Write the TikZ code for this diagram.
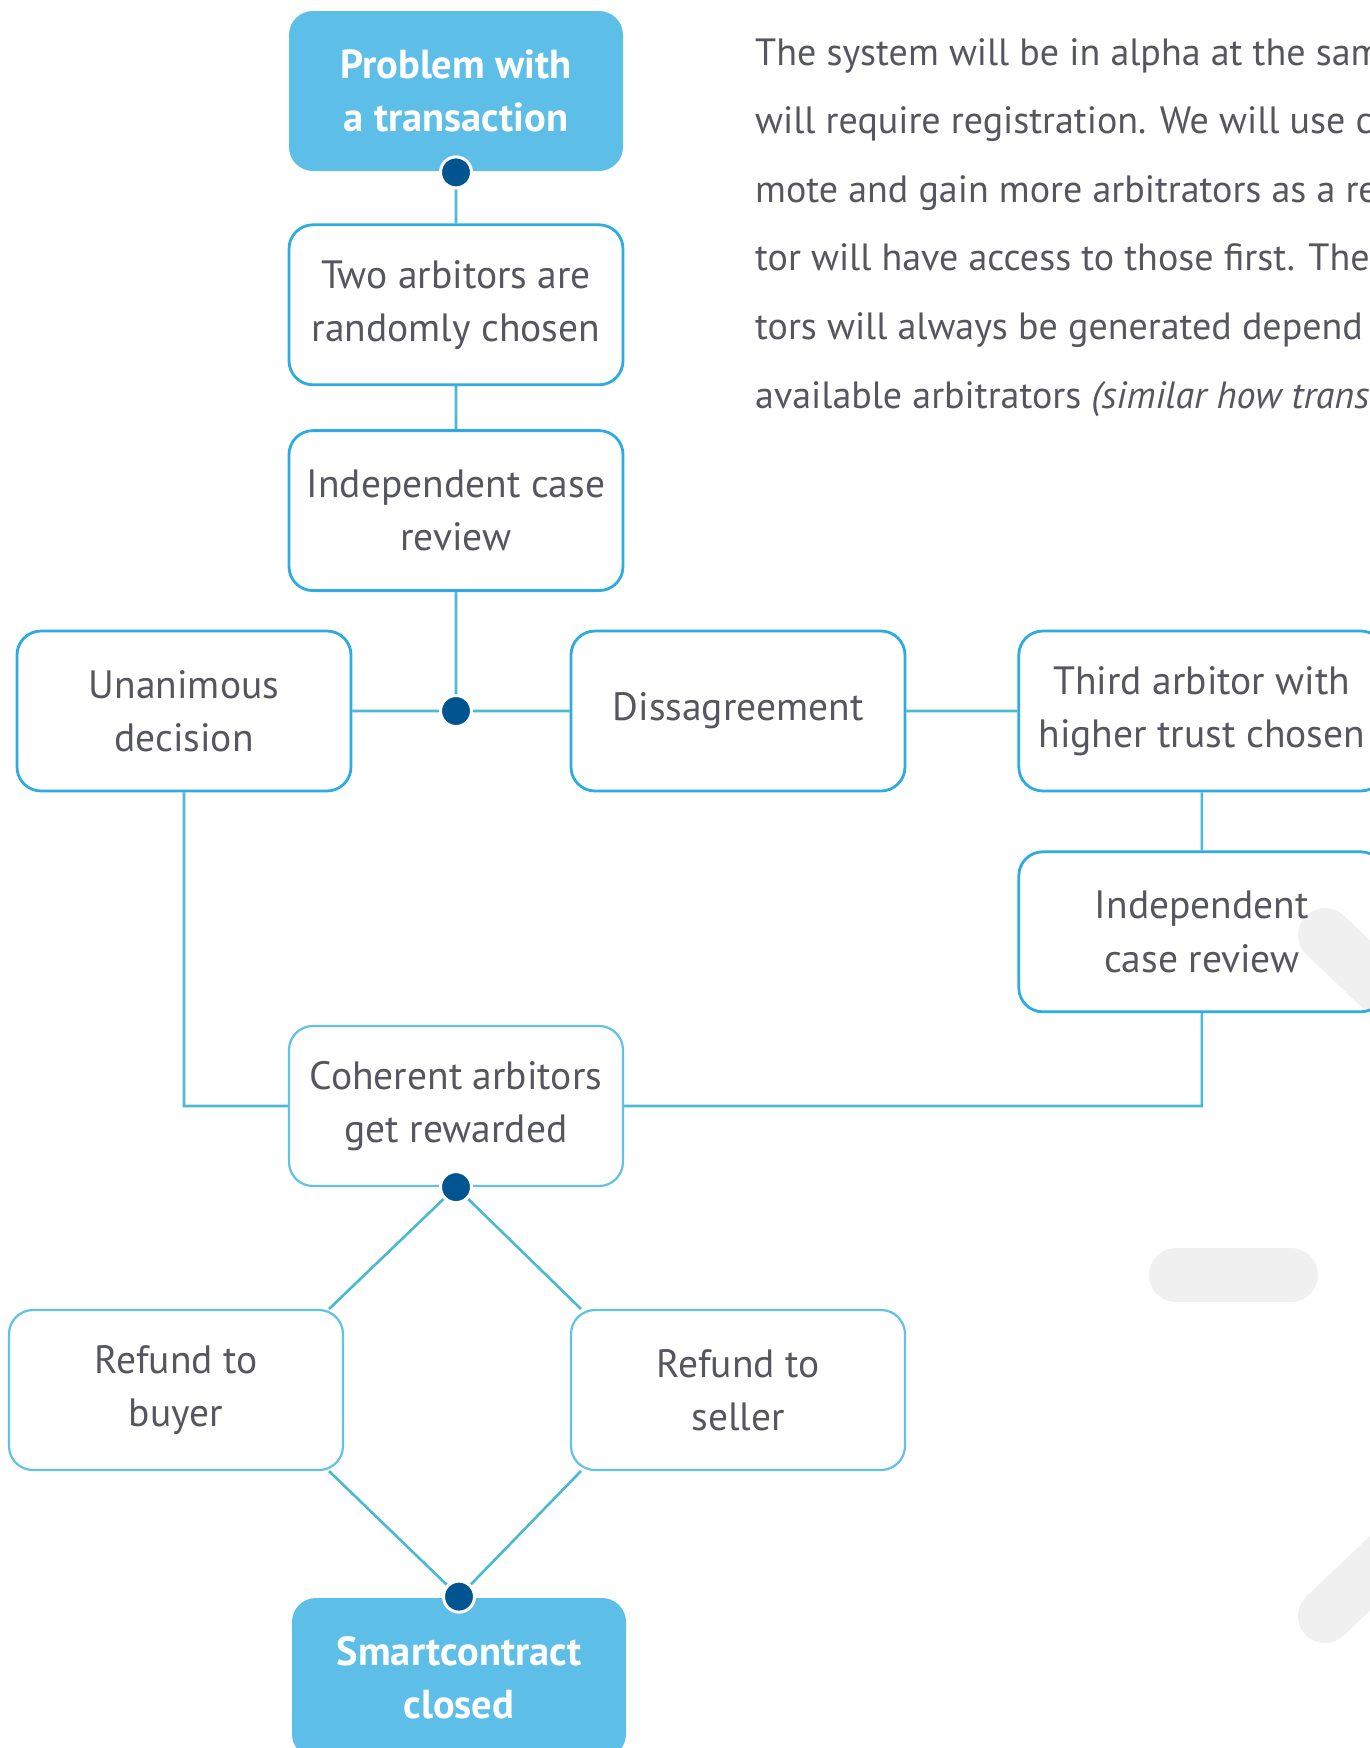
\documentclass[tikz,border=0pt]{standalone}
\usepackage{fontspec}
\setmainfont{PT Sans}
\usetikzlibrary{positioning, backgrounds}
\definecolor{boxblue}{HTML}{2EABE2}
\definecolor{paleblue}{HTML}{62C1E9}
\definecolor{headblue}{HTML}{5DBEE7}
\definecolor{lineblue}{HTML}{4BB9D3}
\definecolor{dotblue}{HTML}{00548F}
\definecolor{txtgrey}{HTML}{56565F}
\definecolor{bggrey}{HTML}{F0F0F0}

\begin{document}
\begin{tikzpicture}[x=1pt, y=-1pt,
    box/.style={draw=boxblue, line width=2.8pt, rounded corners=24pt, minimum width=334pt,
      minimum height=160pt, align=center, text=txtgrey, font=\fontsize{39.5}{53.3}\selectfont},
    softbox/.style={box, draw=paleblue, line width=2.2pt},
    head/.style={box, draw=none, fill=headblue, text=white, font=\fontsize{40.5}{53.3}\selectfont\bfseries},
    dot/.style={circle, fill=dotblue, draw=white, line width=3pt, minimum size=31pt, inner sep=0pt},
    link/.style={draw=lineblue, line width=2.6pt},
    blob/.style={draw=bggrey, line width=54pt, line cap=round},
    para/.style={anchor=base west, inner sep=0pt, text=txtgrey, font=\fontsize{38}{68.6}\selectfont}]
  \useasboundingbox (0,0) rectangle (1370,1748);
  \clip (0,0) rectangle (1370,1748);

  % main column
  \node[head] (problem) at (456,91) {Problem with\\a transaction};
  \node[box, below=51pt of problem] (chosen) {Two arbitors are\\randomly chosen};
  \node[box, below=43pt of chosen] (review) {Independent case\\review};
  \node[box] (unanimous) at (184,711) {Unanimous\\decision};
  \node[box] (disagree) at (738,711) {Dissagreement};
  \node[box, minimum width=366pt, right=111pt of disagree] (third) {Third arbitor with\\higher trust chosen};
  \node[box, minimum width=366pt, below=58pt of third] (review2) {Independent\\case review};
  \node[softbox] (reward) at (456,1106) {Coherent arbitors\\get rewarded};
  \node[softbox] (buyer) at (176,1390) {Refund to\\buyer};
  \node[softbox] (seller) at (738,1390) {Refund to\\seller};
  \node[head] (closed) at (459,1678) {Smartcontract\\closed};

  % junction dots
  \node[dot] (startdot) at (problem.south) {};
  \node[dot] (splitdot) at (review.south |- disagree.west) {};
  \node[dot] (rewarddot) at (reward.south) {};
  \node[dot] (enddot) at (closed.north) {};

  % text block
  \foreach \words [count=\i from 0] in {The system will be in alpha at the sam,
      will require registration. We will use c, mote and gain more arbitrators as a re,
      tor will have access to those first. The, tors will always be generated depend,
      {available arbitrators \textit{(similar how trans}}}
    \node[para] (para\i) at (755,65+68.6*\i) {\words};

  \begin{scope}[on background layer]
    \fill[white] (0,0) rectangle (1370,1748);
    \draw[blob] (1325,935) -- ++(140,133);
    \draw[blob] (1176,1275) -- (1291,1275);
    \draw[blob] (1325,1616) -- ++(140,-133);

    \path[link] (startdot) -- (chosen) (chosen) -- (review) (review) -- (splitdot)
      (unanimous) -- (splitdot) -- (disagree) (disagree) -- (third) (third) -- (review2)
      (review2) |- (reward) (unanimous) |- (reward)
      (rewarddot) -- ([xshift=-15pt]buyer.north east) (rewarddot) -- ([xshift=11pt]seller.north west)
      ([xshift=-15pt]buyer.south east) -- (enddot) ([xshift=11pt]seller.south west) -- (enddot);
  \end{scope}
\end{tikzpicture}
\end{document}
